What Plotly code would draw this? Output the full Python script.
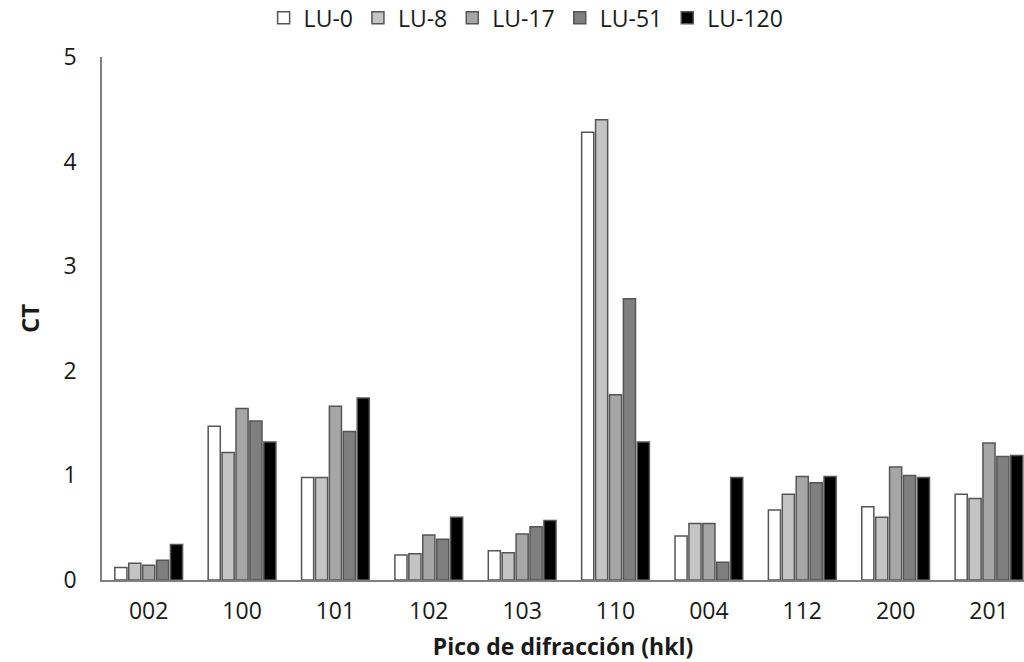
import plotly.graph_objects as go

# Diffraction peaks (hkl) on the x axis
peaks = ["002", "100", "101", "102", "103", "110", "004", "112", "200", "201"]

# Texture coefficient (CT) per sample series
lu_0 = [0.12, 1.47, 0.98, 0.24, 0.28, 4.28, 0.42, 0.67, 0.70, 0.82]
lu_8 = [0.16, 1.22, 0.98, 0.25, 0.26, 4.40, 0.54, 0.82, 0.60, 0.78]
lu_17 = [0.14, 1.64, 1.66, 0.43, 0.44, 1.77, 0.54, 0.99, 1.08, 1.31]
lu_51 = [0.19, 1.52, 1.42, 0.39, 0.51, 2.69, 0.17, 0.93, 1.00, 1.18]
lu_120 = [0.34, 1.32, 1.74, 0.60, 0.57, 1.32, 0.98, 0.99, 0.98, 1.19]

series = [
    ("LU-0", lu_0, "#ffffff"),
    ("LU-8", lu_8, "#c4c4c4"),
    ("LU-17", lu_17, "#a6a6a6"),
    ("LU-51", lu_51, "#7f7f7f"),
    ("LU-120", lu_120, "#000000"),
]

fig = go.Figure()
for name, vals, color in series:
    fig.add_trace(go.Bar(
        name=name, x=peaks, y=vals,
        marker=dict(color=color, line=dict(color="#555555", width=1.5)),
    ))

font_family = "Open Sans, DejaVu Sans, sans-serif"
txt = "#1a1a1a"

fig.update_layout(
    width=1024, height=662,
    margin=dict(l=102, r=0, t=57, b=82, autoexpand=False),
    paper_bgcolor="white", plot_bgcolor="white",
    barmode="group", bargap=0.255, bargroupgap=0.13,
    font=dict(family=font_family, size=23, color=txt),
    showlegend=True,
    legend=dict(
        orientation="h", x=0.46, xanchor="center", y=1.075, yanchor="middle",
        font=dict(size=23, color=txt), itemwidth=30, tracegroupgap=0,
        traceorder="normal",
    ),
    xaxis=dict(
        type="category", range=[-0.5, 9.375],
        showline=True, linecolor="#808080", linewidth=1.5,
        ticks="", showgrid=False, zeroline=False,
        tickfont=dict(size=23, color=txt), ticklabelstandoff=10,
        title=dict(text="<b>Pico de difracción (hkl)</b>", font=dict(size=23, color=txt), standoff=15),
    ),
    yaxis=dict(
        range=[0, 5], dtick=1, tick0=0,
        showline=True, linecolor="#808080", linewidth=1.5,
        ticks="", showgrid=False, zeroline=False,
        tickfont=dict(size=23, color=txt), ticklabelstandoff=19,
        title=dict(text="<b>CT</b>", font=dict(size=24, color=txt), standoff=17),
    ),
)

fig.write_html("out.html")
